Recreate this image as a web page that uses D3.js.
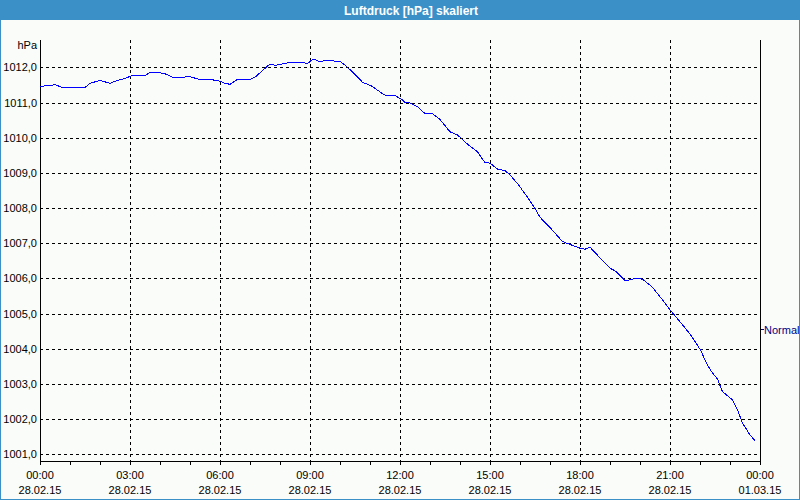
<!DOCTYPE html>
<html><head><meta charset="utf-8">
<script src="https://cdn.jsdelivr.net/npm/d3@7"></script>
<style>
html,body{margin:0;padding:0;background:#fafcfa;}
svg{display:block;}
text{font-family:"Liberation Sans",Arial,sans-serif;}
</style></head>
<body>
<svg id="c" width="800" height="500"></svg>
<script>
const title = "Luftdruck [hPa] skaliert";
const yUnit = "hPa";
const seriesName = "Normal";
const times = ["00:00","00:20","00:30","00:45","01:30","01:40","02:00","02:20","02:35","02:50",
"03:05","03:10","03:30","03:40","03:55","04:10","04:25","04:45","05:00","05:20",
"05:40","06:00","06:10","06:20","06:35","07:00","07:10","07:25","07:40","07:50",
"08:05","08:20","08:45","08:55","09:05","09:10","09:20","09:30","10:00","10:10",
"10:25","10:45","11:05","11:25","11:35","11:50","12:05","12:10","12:20","12:35",
"12:50","13:05","13:20","13:40","13:55","14:15","14:35","14:50","15:00","15:15",
"15:30","15:40","15:55","16:15","16:30","16:40","17:00","17:25","17:45","18:00",
"18:10","18:20","18:25","19:00","19:10","19:30","19:40","19:50","20:05","20:25",
"20:45","21:00","21:20","21:40","22:00","22:15","22:25","22:35","22:45","23:05",
"23:15","23:25","23:40","23:50"];
const values = [1011.46,1011.49,1011.51,1011.43,1011.43,1011.55,1011.63,1011.55,1011.63,1011.69,
1011.77,1011.78,1011.77,1011.86,1011.86,1011.82,1011.72,1011.72,1011.74,1011.65,
1011.66,1011.61,1011.55,1011.52,1011.66,1011.66,1011.72,1011.91,1012.10,1012.06,
1012.10,1012.14,1012.14,1012.11,1012.23,1012.23,1012.16,1012.20,1012.17,1012.07,
1011.87,1011.58,1011.46,1011.25,1011.19,1011.20,1011.08,1011.00,1010.99,1010.88,
1010.69,1010.68,1010.52,1010.17,1010.08,1009.82,1009.60,1009.29,1009.28,1009.11,
1009.07,1008.94,1008.70,1008.31,1007.99,1007.74,1007.45,1007.05,1006.94,1006.86,
1006.83,1006.89,1006.81,1006.29,1006.22,1005.94,1005.96,1006.00,1005.98,1005.75,
1005.39,1005.11,1004.77,1004.42,1003.99,1003.54,1003.31,1003.14,1002.78,1002.55,
1002.26,1001.89,1001.55,1001.39];
const yTicks = [1001,1002,1003,1004,1005,1006,1007,1008,1009,1010,1011,1012];
const xTickHours = [0,3,6,9,12,15,18,21,24];
const xTickTimes = ["00:00","03:00","06:00","09:00","12:00","15:00","18:00","21:00","00:00"];
const xTickDates = ["28.02.15","28.02.15","28.02.15","28.02.15","28.02.15","28.02.15","28.02.15","28.02.15","01.03.15"];

const svg = d3.select("#c");
const L=40, R=760, T=40, B=461;
const toH = s => { const [h,m]=s.split(":").map(Number); return h+m/60; };
const x = d3.scaleLinear().domain([0,24]).range([L,R]);
const y = d3.scaleLinear().domain([1000.81,1012.78]).range([B,T]);
const px = v => Math.round(v)+0.5;

// background + frame
svg.append("rect").attr("x",0).attr("y",0).attr("width",800).attr("height",500).attr("fill","#fafcfa");
svg.append("rect").attr("x",0).attr("y",0).attr("width",800).attr("height",20).attr("fill","#3c90c8");
svg.append("rect").attr("x",0.5).attr("y",0.5).attr("width",799).attr("height",499).attr("fill","none").attr("stroke","#3c90c8").attr("stroke-width",1);
svg.append("text").attr("x",411).attr("y",14.5).attr("text-anchor","middle")
  .attr("fill","#fff").attr("font-weight","bold").attr("font-size","12px").text(title);

// grid
const g = svg.append("g").attr("shape-rendering","crispEdges");
g.selectAll("line.hg").data(yTicks).join("line").attr("class","hg")
  .attr("x1",L).attr("x2",R).attr("y1",d=>px(y(d))).attr("y2",d=>px(y(d)))
  .attr("stroke","#000").attr("stroke-dasharray","3,3");
g.selectAll("line.vg").data(xTickHours.filter(h=>h>0&&h<24)).join("line").attr("class","vg")
  .attr("y1",T).attr("y2",B).attr("x1",d=>px(x(d))).attr("x2",d=>px(x(d)))
  .attr("stroke","#000").attr("stroke-dasharray","3,3");

// axes lines
g.append("line").attr("x1",px(L)).attr("x2",px(L)).attr("y1",T).attr("y2",B+1).attr("stroke","#000");
g.append("line").attr("x1",px(R)).attr("x2",px(R)).attr("y1",T).attr("y2",B+1).attr("stroke","#000");
g.append("line").attr("x1",L).attr("x2",R+1).attr("y1",px(B)).attr("y2",px(B)).attr("stroke","#000");
// hourly ticks
g.selectAll("line.tk").data(d3.range(0,25)).join("line").attr("class","tk")
  .attr("x1",d=>px(x(d))).attr("x2",d=>px(x(d))).attr("y1",B).attr("y2",B+4).attr("stroke","#000");

// y labels
svg.selectAll("text.yl").data(yTicks).join("text").attr("class","yl")
  .attr("x",37).attr("y",d=>y(d)+4).attr("text-anchor","end").attr("font-size","11px").attr("fill","#000")
  .text(d=>d3.format(".1f")(d).replace(".",","));
svg.append("text").attr("x",37).attr("y",49).attr("text-anchor","end").attr("font-size","11px").text(yUnit);

// x labels
svg.selectAll("text.xt").data(xTickHours).join("text").attr("class","xt")
  .attr("x",d=>x(d)).attr("y",479).attr("text-anchor","middle").attr("font-size","11px").text((d,i)=>xTickTimes[i]);
svg.selectAll("text.xd").data(xTickHours).join("text").attr("class","xd")
  .attr("x",d=>x(d)).attr("y",494).attr("text-anchor","middle").attr("font-size","11px").text((d,i)=>xTickDates[i]);

// line
const data = times.map((t,i)=>({h:toH(t),v:values[i]}));
svg.append("path").datum(data).attr("fill","none").attr("stroke","#0000ff").attr("stroke-width",1)
  .attr("shape-rendering","crispEdges")
  .attr("d",d3.line().x(d=>x(d.h)).y(d=>y(d.v)));

// legend
svg.append("line").attr("x1",761).attr("x2",764).attr("y1",329.5).attr("y2",329.5).attr("stroke","#000080").attr("shape-rendering","crispEdges");
svg.append("text").attr("x",764).attr("y",334).attr("font-size","11px").attr("fill","#000080").text(seriesName);
</script>
</body></html>
